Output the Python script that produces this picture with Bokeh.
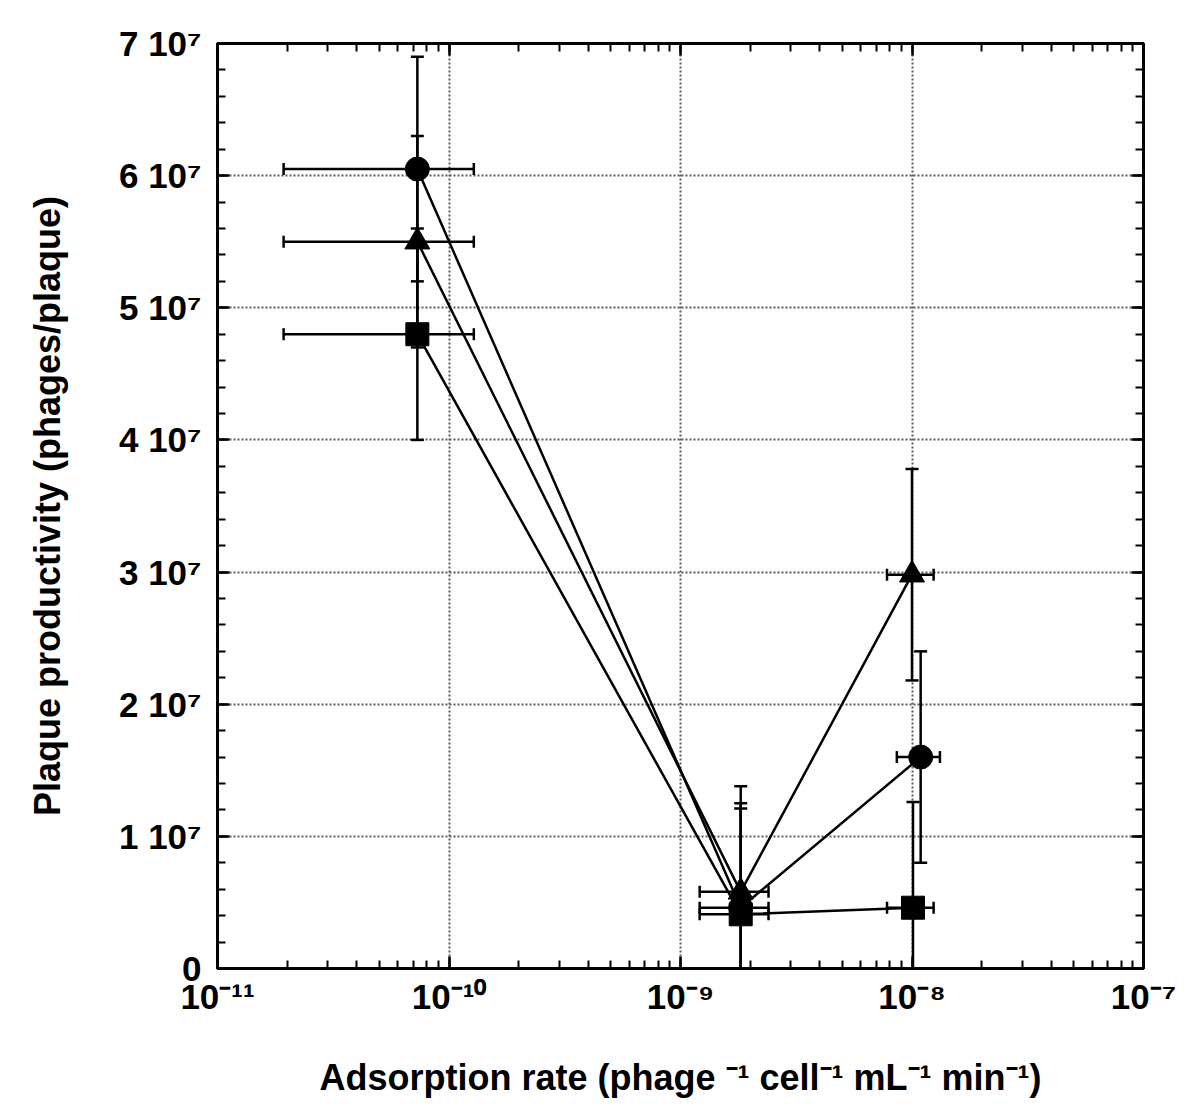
import math
from bokeh.plotting import figure
from bokeh.models import (Range1d, LinearAxis, LogAxis, SingleIntervalTicker, LogTicker,
                          CustomJSTickFormatter, FixedTicker)
from bokeh.embed import file_html
from bokeh.resources import INLINE

# ---- data ----
circle_x = [7.3e-11, 1.82e-9, 1.09e-8]
circle_y = [6.05e7, 4.6e6, 1.6e7]
circle_yerr = [0.85e7, 0.79e7, 0.8e7]
circle_xlo = [1.93e-11, 1.21e-9, 8.6e-9]
circle_xhi = [1.28e-10, 2.4e-9, 1.32e-8]

triangle_x = [7.3e-11, 1.82e-9, 1.0e-8]
triangle_y = [5.5e7, 5.8e6, 2.98e7]
triangle_yerr = [0.8e7, 0.8e7, 0.8e7]
triangle_xlo = [1.93e-11, 1.21e-9, 7.8e-9]
triangle_xhi = [1.28e-10, 2.4e-9, 1.24e-8]

square_x = [7.3e-11, 1.82e-9, 1.01e-8]
square_y = [4.8e7, 4.1e6, 4.6e6]
square_yerr = [0.8e7, 0.8e7, 0.8e7]
square_xlo = [1.93e-11, 1.21e-9, 7.8e-9]
square_xhi = [1.28e-10, 2.4e-9, 1.24e-8]

x_ticks = [1e-11, 1e-10, 1e-9, 1e-8, 1e-7]
x_tick_labels = ["10\u207b\u00b9\u00b9", "10\u207b\u00b9\u2070", "10\u207b\u2079", "10\u207b\u2078", "10\u207b\u2077"]
y_ticks = [0, 1e7, 2e7, 3e7, 4e7, 5e7, 6e7, 7e7]
y_tick_labels = ["0", "1 10\u2077", "2 10\u2077", "3 10\u2077", "4 10\u2077", "5 10\u2077", "6 10\u2077", "7 10\u2077"]

x_title = "Adsorption rate (phage \u207b\u00b9 cell\u207b\u00b9 mL\u207b\u00b9 min\u207b\u00b9)"
y_title = "Plaque productivity (phages/plaque)"

FONT = "Liberation Sans"
LW = 2.5

p = figure(width=1184, height=1109, x_axis_type="log",
           x_range=Range1d(1e-11, 1e-7), y_range=Range1d(0, 7e7),
           output_backend="svg", toolbar_location=None,
           min_border_left=217, min_border_right=41, min_border_top=43, min_border_bottom=141)
p.background_fill_color = "white"
p.border_fill_color = "white"
p.outline_line_color = "black"
p.outline_line_width = 3

xfmt = CustomJSTickFormatter(args=dict(vals=x_ticks, labels=x_tick_labels), code="""
let best = 0, bd = 1e9;
for (let i = 0; i < vals.length; i++) {
  const d = Math.abs(Math.log10(vals[i]) - Math.log10(tick));
  if (d < bd) { bd = d; best = i; }
}
return labels[best];
""")
yfmt = CustomJSTickFormatter(args=dict(vals=y_ticks, labels=y_tick_labels), code="""
let best = 0, bd = 1e30;
for (let i = 0; i < vals.length; i++) {
  const d = Math.abs(vals[i] - tick);
  if (d < bd) { bd = d; best = i; }
}
return labels[best];
""")

def style_axis(ax, show_labels):
    ax.axis_line_width = 3
    ax.axis_line_color = "black"
    ax.major_tick_in = 12
    ax.major_tick_out = 0
    ax.minor_tick_in = 8
    ax.minor_tick_out = 0
    ax.major_tick_line_width = LW
    ax.minor_tick_line_width = 2
    ax.major_tick_line_color = "black"
    ax.minor_tick_line_color = "black"
    ax.major_label_text_font = FONT
    ax.major_label_text_font_style = "bold"
    ax.major_label_text_color = "black"
    ax.major_label_text_font_size = "35px"
    if not show_labels:
        ax.major_label_text_alpha = 0
        ax.major_label_text_font_size = "2px"
        ax.major_label_standoff = 0

xax = p.xaxis[0]
xax.ticker = LogTicker(num_minor_ticks=10)
xax.formatter = xfmt
style_axis(xax, True)
xax.major_label_standoff = 8
xax.axis_label = x_title
xax.axis_label_text_font = FONT
xax.axis_label_text_font_style = "bold"
xax.axis_label_text_font_size = "36px"
xax.axis_label_text_color = "black"
xax.axis_label_standoff = 38

yax = p.yaxis[0]
yax.ticker = SingleIntervalTicker(interval=1e7, num_minor_ticks=5)
yax.formatter = yfmt
style_axis(yax, True)
yax.major_label_standoff = 16
yax.axis_label = y_title
yax.axis_label_text_font = FONT
yax.axis_label_text_font_style = "bold"
yax.axis_label_text_font_size = "36px"
yax.axis_label_text_color = "black"
yax.axis_label_standoff = 48

top = LogAxis(ticker=LogTicker(num_minor_ticks=10))
style_axis(top, False)
p.add_layout(top, "above")
right = LinearAxis(ticker=SingleIntervalTicker(interval=1e7, num_minor_ticks=5))
style_axis(right, False)
p.add_layout(right, "right")

p.xgrid.ticker = FixedTicker(ticks=x_ticks)
p.ygrid.ticker = FixedTicker(ticks=y_ticks)
for g in (p.xgrid[0], p.ygrid[0]):
    g.grid_line_color = "#5a5a5a"
    g.grid_line_width = 2
    g.grid_line_dash = "2 2"

series = [
    (circle_x, circle_y, circle_yerr, circle_xlo, circle_xhi, "circle", 24),
    (triangle_x, triangle_y, triangle_yerr, triangle_xlo, triangle_xhi, "triangle", 25),
    (square_x, square_y, square_yerr, square_xlo, square_xhi, "square", 23),
]

for xs, ys, ye, xlo, xhi, mk, sz in series:
    p.line(xs, ys, line_color="black", line_width=LW)

for xs, ys, ye, xlo, xhi, mk, sz in series:
    ylo = [y - e for y, e in zip(ys, ye)]
    yhi = [y + e for y, e in zip(ys, ye)]
    p.segment(x0=xs, y0=ylo, x1=xs, y1=yhi, line_color="black", line_width=LW)
    p.scatter(xs, ylo, marker="dash", size=13, line_color="black", line_width=LW)
    p.scatter(xs, yhi, marker="dash", size=13, line_color="black", line_width=LW)
    p.segment(x0=xlo, y0=ys, x1=xhi, y1=ys, line_color="black", line_width=LW)
    p.scatter(xlo, ys, marker="dash", angle=math.pi / 2, size=12, line_color="black", line_width=LW)
    p.scatter(xhi, ys, marker="dash", angle=math.pi / 2, size=12, line_color="black", line_width=LW)

for xs, ys, ye, xlo, xhi, mk, sz in series:
    p.scatter(xs, ys, marker=mk, size=sz, fill_color="black", line_color="black", line_width=1)

open("out.html", "w").write(file_html(p, INLINE))
